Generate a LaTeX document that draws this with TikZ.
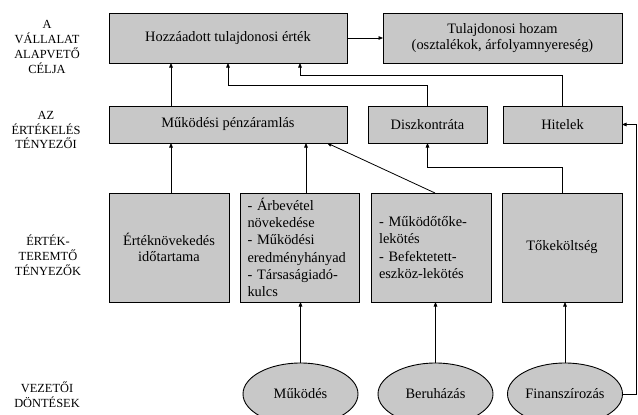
\documentclass[tikz,border=0pt]{standalone}
\usepackage{fontspec}
\setmainfont{Liberation Serif}
\usetikzlibrary{arrows.meta,shapes.geometric}
\definecolor{boxgray}{RGB}{200,200,200}
\tikzset{
  box/.style={draw=black, line width=0.9pt, fill=boxgray, inner sep=0pt, outer sep=0pt,
    font=\fontsize{14.4}{16}\selectfont, align=center},
  tallbox/.style={box, minimum width=119pt, minimum height=109pt},
  listbox/.style={tallbox, text width=104pt, inner xsep=7.5pt, align=left,
    font=\fontsize{14.4}{17.3}\selectfont},
  oval/.style={draw=black, line width=0.9pt, fill=boxgray, ellipse, inner sep=0pt, outer sep=0pt,
    minimum width=115pt, minimum height=62pt, font=\fontsize{14.4}{16}\selectfont},
  rowlabel/.style={align=center, font=\fontsize{12.4}{14.8}\selectfont},
  conn/.style={draw=black, line width=0.8pt},
  arr/.style={conn, -{Triangle[length=4.5pt,width=3.6pt]}}
}
\begin{document}
\begin{tikzpicture}[x=1pt,y=-1pt]
\clip (0,0) rectangle (638,415);
\fill[white] (0,0) rectangle (638,415);

% row labels
\node[rowlabel] (l1) at (47,47) {A\\VÁLLALAT\\ALAPVETŐ\\CÉLJA};
\node[rowlabel] (l2) at (46,130) {AZ\\ÉRTÉKELÉS\\TÉNYEZŐI};
\node[rowlabel] (l3) at (48,255) {ÉRTÉK-\\TEREMTŐ\\TÉNYEZŐK};
\node[rowlabel] (l4) at (47,395) {VEZETŐI\\DÖNTÉSEK};

% top row
\node[box, minimum width=238pt, minimum height=50pt] (hoz) at (228,38) {Hozzáadott tulajdonosi érték};
\node[box, minimum width=239pt, minimum height=50pt] (hozam) at (502.5,38) {Tulajdonosi hozam\\(osztalékok, árfolyamnyereség)};

% second row
\node[box, minimum width=238pt, minimum height=37pt] (mpa) at (228,124.5) {Működési pénzáramlás};
\node[box, minimum width=119pt, minimum height=37pt] (disz) at (427.5,124.5) {Diszkontráta};
\node[box, minimum width=119pt, minimum height=37pt] (hit) at (562.5,124.5) {Hitelek};

% third row
\node[tallbox, minimum width=120pt] (ert) at (169,247.5) {Értéknövekedés\\időtartama};
\node[listbox] (arb) at (299.5,247.5) {- Árbevétel\\növekedése\\- Működési\\eredményhányad\\- Társaságiadó-\\kulcs};
\node[listbox, minimum width=120pt] (mukt) at (431,247.5) {- Működőtőke-\\lekötés\\- Befektetett-\\eszköz-lekötés};
\node[tallbox, minimum width=120pt] (toke) at (562,247.5) {Tőkeköltség};

% decisions
\node[oval] (mukodes) at (300.5,394) {Működés};
\node[oval] (beru) at (435.5,394) {Beruházás};
\node[oval] (fin) at (565,394) {Finanszírozás};

% helper coordinates
\coordinate (xa) at (171,0);
\coordinate (xb) at (306,0);
\coordinate (xc) at (327,0);
\coordinate (k1) at (228,85);
\coordinate (k2) at (300,75);
\coordinate (k3) at (0,167);
\coordinate (r1) at (636,0);

% connectors
\draw[arr] (hoz.east) -- (hozam.west);
\draw[arr] (mpa.north -| xa) -- (hoz.south -| xa);
\draw[arr] (disz.north) |- (k1) -- (hoz.south);
\draw[arr] (hit.north) |- (k2) -- (hoz.south -| k2);
\draw[arr] (ert.north -| xa) -- (mpa.south -| xa);
\draw[arr] (arb.north -| xb) -- (mpa.south -| xb);
\draw[arr] ([xshift=4pt]mukt.north) -- (mpa.south -| xc);
\draw[arr] (toke.north) |- (disz.south |- k3) -- (disz.south);
\draw[arr] (mukodes.north) -- (arb.south -| mukodes.north);
\draw[arr] (beru.north) -- (mukt.south -| beru.north);
\draw[arr] (fin.north) -- (toke.south -| fin.north);
\draw[arr] (fin.east) -- (fin.east -| r1) |- (hit.east);
\end{tikzpicture}
\end{document}
